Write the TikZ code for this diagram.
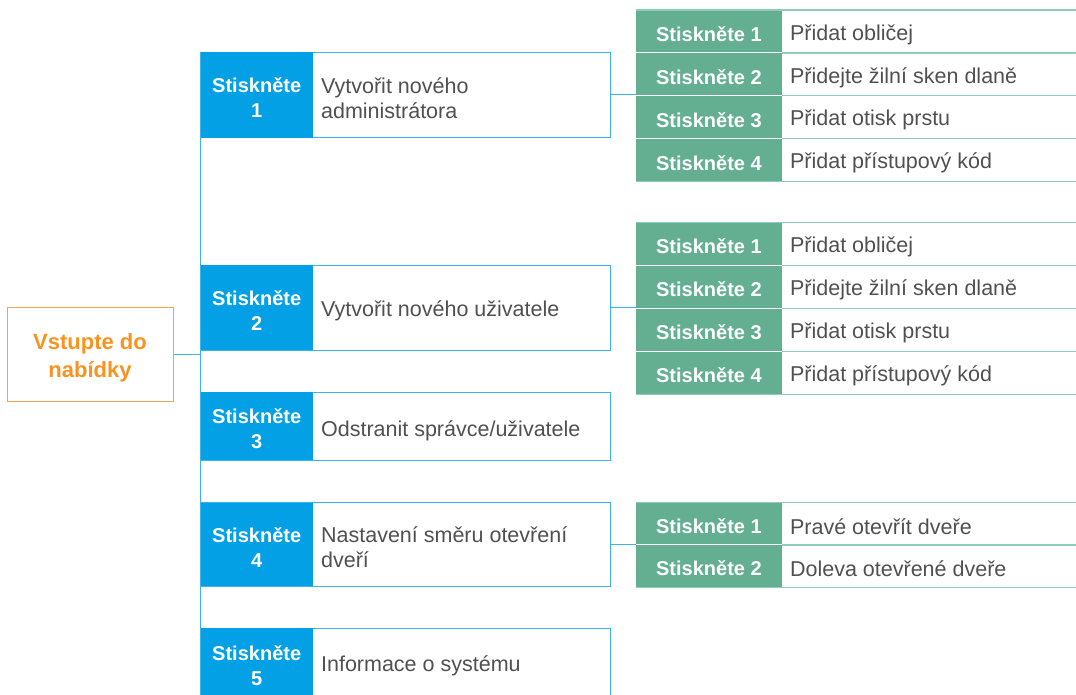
\documentclass[tikz,border=0pt]{standalone}
\usepackage{fontspec}
\setmainfont{Liberation Sans}
\definecolor{kblue}{HTML}{03A0E6}
\definecolor{kblueline}{HTML}{3BB4EC}
\definecolor{kgreen}{HTML}{64AE91}
\definecolor{kgreenline}{HTML}{8CCFB4}
\definecolor{korange}{HTML}{F7931E}
\definecolor{korangeline}{HTML}{F7A050}
\definecolor{ktext}{HTML}{505050}
\begin{document}
\begin{tikzpicture}[x=1pt,y=-1pt,
 menubox/.style={draw=korangeline, line width=1pt, minimum width=166pt, minimum height=94pt, inner sep=0pt, label={[menutext]center:{#1}}},
 menutext/.style={text=korange, font=\fontsize{22}{28}\selectfont\bfseries, align=center, inner sep=0pt, yshift=-3.5pt},
 itembox/.style={draw=kblueline, line width=1pt, minimum width=409pt, inner sep=0pt},
 keycell/.style={fill=kblue, minimum width=112pt, inner sep=0pt, anchor=west, label={[keytext]center:{#1}}},
 keytext/.style={text=white, font=\fontsize{20}{25}\selectfont\bfseries, align=center, inner sep=0pt, yshift=-3pt},
 desc/.style={text=ktext, font=\fontsize{21.5}{25}\selectfont, align=left, anchor=west, inner sep=0pt, yshift=-3pt},
 gcell/.style={fill=kgreen, minimum width=145.5pt, minimum height=42.5pt, inner sep=0pt, anchor=north west, label={[gtext]center:{#1}}},
 gtext/.style={text=white, font=\fontsize{20}{24}\selectfont\bfseries, inner sep=0pt, yshift=-2.5pt},
 gdesc/.style={text=ktext, font=\fontsize{21.5}{24}\selectfont, anchor=west, inner sep=0pt, yshift=-3pt},
 gline/.style={draw=kgreenline, line width=1.2pt},
 gsep/.style={draw=white, line width=1pt},
 link/.style={draw=kblueline, line width=1pt},
]
\useasboundingbox (0,0) rectangle (1076,694);
\coordinate (R) at (1076,0);

% menu
\node[menubox={Vstupte do\\nabídky}] (menu) at (90,354) {};

% items
\node[itembox, minimum height=85.5pt] (b1) at (405.5,94.75) {};
\node[itembox, minimum height=85pt] (b2) at (405.5,307.5) {};
\node[itembox, minimum height=68pt] (b3) at (405.5,426) {};
\node[itembox, minimum height=83.5pt] (b4) at (405.5,544.25) {};
\node[itembox, minimum height=70pt] (b5) at (405.5,663) {};

\draw[link] (b1.north west) -- (b5.south west);
\draw[link] (menu.east) -- (menu.east -| b1.west);

\node[keycell={Stiskněte\\1}, minimum height=85.5pt] (k1) at (b1.west) {};
\node[keycell={Stiskněte\\2}, minimum height=85pt] (k2) at (b2.west) {};
\node[keycell={Stiskněte\\3}, minimum height=68pt] (k3) at (b3.west) {};
\node[keycell={Stiskněte\\4}, minimum height=83.5pt] (k4) at (b4.west) {};
\node[keycell={Stiskněte\\5}, minimum height=70pt] (k5) at (b5.west) {};

\node[desc] (d1) at ([xshift=8pt]k1.east) {Vytvořit nového\\administrátora};
\node[desc] (d2) at ([xshift=8pt]k2.east) {Vytvořit nového uživatele};
\node[desc, yshift=-1.5pt] (d3) at ([xshift=8pt]k3.east) {Odstranit správce/uživatele};
\node[desc] (d4) at ([xshift=8pt]k4.east) {Nastavení směru otevření\\dveří};
\node[desc] (d5) at ([xshift=8pt]k5.east) {Informace o systému};

% table 1
\node[gcell={Stiskněte 1}] (g11) at (636,10) {};
\node[gcell={Stiskněte 2}] (g12) at (g11.south west) {};
\node[gcell={Stiskněte 3}] (g13) at (g12.south west) {};
\node[gcell={Stiskněte 4}] (g14) at (g13.south west) {};
\node[gdesc] (e11) at ([xshift=8pt]g11.east) {Přidat obličej};
\node[gdesc] (e12) at ([xshift=8pt]g12.east) {Přidejte žilní sken dlaně};
\node[gdesc] (e13) at ([xshift=8pt]g13.east) {Přidat otisk prstu};
\node[gdesc] (e14) at ([xshift=8pt]g14.east) {Přidat přístupový kód};

% table 2
\node[gcell={Stiskněte 1}] (g21) at (636,222.5) {};
\node[gcell={Stiskněte 2}] (g22) at (g21.south west) {};
\node[gcell={Stiskněte 3}] (g23) at (g22.south west) {};
\node[gcell={Stiskněte 4}] (g24) at (g23.south west) {};
\node[gdesc] (e21) at ([xshift=8pt]g21.east) {Přidat obličej};
\node[gdesc] (e22) at ([xshift=8pt]g22.east) {Přidejte žilní sken dlaně};
\node[gdesc] (e23) at ([xshift=8pt]g23.east) {Přidat otisk prstu};
\node[gdesc] (e24) at ([xshift=8pt]g24.east) {Přidat přístupový kód};

% table 3
\node[gcell={Stiskněte 1}, minimum height=42pt] (g31) at (636,502.5) {};
\node[gcell={Stiskněte 2}, minimum height=42pt] (g32) at (g31.south west) {};
\node[gdesc] (e31) at ([xshift=8pt]g31.east) {Pravé otevřít dveře};
\node[gdesc] (e32) at ([xshift=8pt]g32.east) {Doleva otevřené dveře};

% separators in green column
\foreach \c in {g11,g12,g13,g21,g22,g23,g31}{
  \draw[gsep] (\c.south west) -- (\c.south east);
}
% horizontal rules
\foreach \c in {g11,g21,g31}{
  \draw[gline] (\c.north west) -- (\c.north west -| R);
}
\foreach \c in {g11,g12,g13,g21,g22,g23,g31}{
  \draw[gline] (\c.south east) -- (\c.south east -| R);
}
\foreach \c in {g14,g24,g32}{
  \draw[gline] (\c.south west) -- (\c.south west -| R);
}

% connectors to tables
\draw[link] (b1.east) -- (b1.east -| g11.west);
\draw[link] (b2.east) -- (b2.east -| g21.west);
\draw[link] (b4.east) -- (b4.east -| g31.west);
\end{tikzpicture}
\end{document}
